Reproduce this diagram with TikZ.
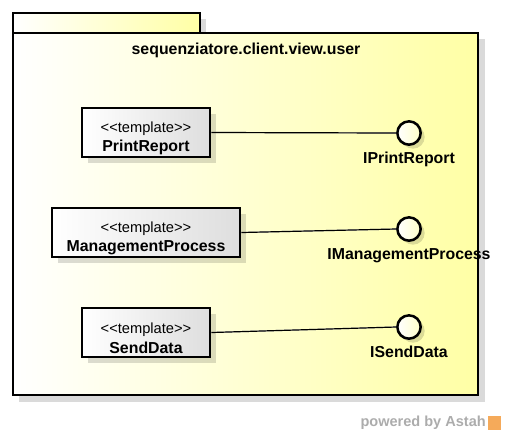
\documentclass[tikz,border=0pt]{standalone}
\usepackage{fontspec}
\setmainfont{Liberation Sans}
\usetikzlibrary{positioning,shadows}
\definecolor{pkgyellow}{RGB}{255,255,165}
\definecolor{boxgrey}{RGB}{222,222,222}
\definecolor{shadowgrey}{RGB}{218,218,218}
\definecolor{astahgrey}{RGB}{172,172,172}
\definecolor{astahorange}{RGB}{245,170,90}

\begin{document}
\begin{tikzpicture}[x=0.75pt,y=-0.75pt]
    \tikzstyle{template}=[rectangle, draw=black, line width=2.2pt, left color=white, right color=boxgrey,
                          minimum height=36.75pt, align=center, inner sep=0pt,
                          drop shadow={shadow xshift=4.5pt, shadow yshift=-4.5pt, fill=black, opacity=0.14}]
    \tikzstyle{iface}=[circle, draw=black, line width=1.9pt, left color=white, right color=pkgyellow!60,
                       minimum size=17.5pt, inner sep=0pt,
                       drop shadow={shadow xshift=3pt, shadow yshift=-3pt, fill=black, opacity=0.14}]
    \tikzstyle{ifacename}=[font=\fontsize{11.9}{13}\bfseries\selectfont, inner sep=0pt]
    \tikzstyle{realize}=[line width=0.9pt]
    \tikzstyle{realizeshadow}=[line width=0.9pt, black!13]
    \newcommand{\templatetext}[1]{\rule{0pt}{16.5pt}{\fontsize{11}{12}\selectfont <{}<template>{}>}\\[2.5pt]{\fontsize{11.9}{13}\bfseries\selectfont #1}}

    \useasboundingbox (0,0) rectangle (505,436);

    % package with its tab
    \fill[shadowgrey] (19,19) rectangle (206,39);
    \fill[shadowgrey] (19,39) rectangle (485,402);
    \shadedraw[left color=white, right color=pkgyellow, line width=2.2pt] (13,13) rectangle (200,33);
    \shadedraw[left color=white, right color=pkgyellow, line width=2.2pt] (13,33) rectangle (478,395);
    \node[font=\fontsize{11.9}{13}\bfseries\selectfont] (pkgname) at (246,50) {sequenziatore.client.view.user};

    % templates
    \node[template, minimum width=96pt]  (printreport) at (146,132.5) {\templatetext{PrintReport}};
    \node[template, minimum width=141pt] (mgmtprocess) at (146,232.5) {\templatetext{ManagementProcess}};
    \node[template, minimum width=96pt]  (senddata)    at (146,332.5) {\templatetext{SendData}};

    % interfaces
    \node[iface] (iprintreport) at (409,133) {};
    \node[iface] (imgmtprocess) at (409,229) {};
    \node[iface] (isenddata)    at (409,327) {};
    \node[ifacename, below=4.5pt of iprintreport] (iprintreportname) {IPrintReport};
    \node[ifacename, below=4.5pt of imgmtprocess] (imgmtprocessname) {IManagementProcess};
    \node[ifacename, below=4.5pt of isenddata]    (isenddataname)    {ISendData};

    % realizations
    \begin{scope}[yshift=-4pt]
        \draw[realizeshadow] (printreport.east) -- (iprintreport.west);
        \draw[realizeshadow] (mgmtprocess.east) -- (imgmtprocess.west);
        \draw[realizeshadow] (senddata.east) -- (isenddata.west);
    \end{scope}
    \draw[realize] (printreport.east) -- (iprintreport.west);
    \draw[realize] (mgmtprocess.east) -- (imgmtprocess.west);
    \draw[realize] (senddata.east) -- (isenddata.west);

    % footer
    \node[font=\fontsize{10.9}{12}\bfseries\selectfont, text=astahgrey, anchor=east, inner sep=0pt] (powered) at (486,423) {powered by Astah};
    \node[fill=astahorange, minimum size=10pt, inner sep=0pt, right=1pt of powered] (astahlogo) {};
\end{tikzpicture}
\end{document}
